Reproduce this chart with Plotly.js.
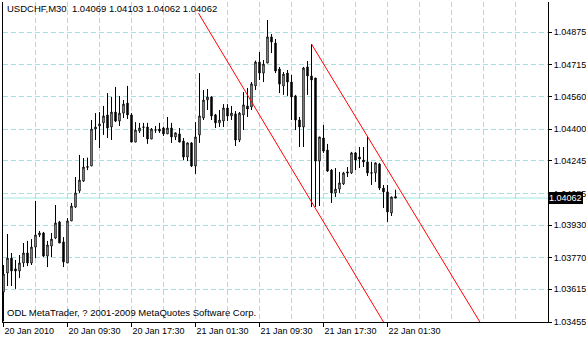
<!DOCTYPE html>
<html><head><meta charset="utf-8">
<script src="https://cdn.plot.ly/plotly-3.0.1.min.js"></script>
<style>html,body{margin:0;padding:0;background:#fff;overflow:hidden;} #chart{width:586px;height:340px;}</style>
</head><body><div id="chart"></div>
<script>
const symbol = "USDCHF,M30";
const open = [1.03602,1.03695,1.03768,1.03715,1.03705,1.03744,1.03793,1.03744,1.03822,1.03881,
1.03891,1.03778,1.03827,1.03866,1.03945,1.03847,1.03744,1.03950,1.04018,1.04097,
1.04145,1.04212,1.04219,1.04400,1.04415,1.04430,1.04469,1.04410,1.04483,1.04439,
1.04478,1.04527,1.04469,1.04336,1.04390,1.04408,1.04410,1.04351,1.04394,1.04400,
1.04405,1.04376,1.04405,1.04361,1.04376,1.04341,1.04263,1.04332,1.04219,1.04371,
1.04454,1.04542,1.04557,1.04469,1.04430,1.04439,1.04503,1.04464,1.04474,1.04346,
1.04469,1.04513,1.04508,1.04611,1.04728,1.04674,1.04723,1.04851,1.04821,1.04694,
1.04611,1.04674,1.04630,1.04562,1.04444,1.04410,1.04704,1.04660,1.04650,1.04243,
1.04356,1.04297,1.04199,1.04087,1.04106,1.04131,1.04190,1.04185,1.04283,1.04263,
1.04248,1.04239,1.04186,1.04185,1.04229,1.04111,1.04092,1.03989,1.04069];
const high = [1.03734,1.03886,1.03793,1.03759,1.03783,1.03842,1.03852,1.03861,1.04048,1.03901,
1.03896,1.03852,1.03891,1.04028,1.03950,1.03871,1.03964,1.04038,1.04165,1.04273,
1.04258,1.04260,1.04444,1.04478,1.04483,1.04513,1.04576,1.04557,1.04606,1.04562,
1.04542,1.04611,1.04478,1.04434,1.04430,1.04430,1.04430,1.04405,1.04415,1.04430,
1.04410,1.04459,1.04430,1.04383,1.04405,1.04356,1.04334,1.04336,1.04434,1.04674,
1.04591,1.04596,1.04560,1.04474,1.04493,1.04522,1.04522,1.04513,1.04488,1.04483,
1.04581,1.04601,1.04630,1.04735,1.04777,1.04738,1.04934,1.04865,1.04841,1.04704,
1.04679,1.04689,1.04665,1.04567,1.04459,1.04704,1.04733,1.04816,1.04650,1.04361,
1.04420,1.04327,1.04204,1.04209,1.04190,1.04190,1.04214,1.04288,1.04288,1.04312,
1.04312,1.04361,1.04239,1.04236,1.04234,1.04126,1.04126,1.04069,1.04103];
const low = [1.03458,1.03631,1.03631,1.03617,1.03670,1.03724,1.03729,1.03734,1.03768,1.03871,
1.03773,1.03724,1.03773,1.03861,1.03842,1.03724,1.03744,1.03950,1.04013,1.04087,
1.04141,1.04199,1.04219,1.04346,1.04307,1.04371,1.04356,1.04346,1.04434,1.04415,
1.04454,1.04449,1.04336,1.04336,1.04381,1.04361,1.04327,1.04351,1.04381,1.04381,
1.04366,1.04376,1.04332,1.04346,1.04336,1.04248,1.04243,1.04214,1.04180,1.04332,
1.04444,1.04493,1.04444,1.04405,1.04410,1.04410,1.04439,1.04444,1.04317,1.04336,
1.04395,1.04459,1.04493,1.04591,1.04640,1.04630,1.04723,1.04772,1.04674,1.04576,
1.04567,1.04562,1.04444,1.04395,1.04312,1.04312,1.04567,1.04018,1.04018,1.04023,
1.04283,1.04190,1.04038,1.04067,1.04087,1.04126,1.04165,1.04180,1.04199,1.04209,
1.04214,1.04170,1.04126,1.04141,1.04101,1.04013,1.03945,1.03974,1.04062];
const close = [1.03690,1.03768,1.03705,1.03705,1.03744,1.03793,1.03744,1.03822,1.03881,1.03891,
1.03778,1.03832,1.03861,1.03940,1.03842,1.03749,1.03950,1.04023,1.04087,1.04150,
1.04214,1.04216,1.04400,1.04410,1.04425,1.04464,1.04405,1.04483,1.04439,1.04478,
1.04522,1.04469,1.04336,1.04395,1.04405,1.04410,1.04351,1.04400,1.04396,1.04390,
1.04376,1.04405,1.04361,1.04381,1.04336,1.04263,1.04332,1.04219,1.04361,1.04464,
1.04542,1.04557,1.04464,1.04430,1.04444,1.04503,1.04464,1.04478,1.04346,1.04478,
1.04518,1.04498,1.04621,1.04728,1.04674,1.04718,1.04851,1.04826,1.04684,1.04620,
1.04669,1.04630,1.04557,1.04444,1.04410,1.04699,1.04660,1.04640,1.04243,1.04361,
1.04292,1.04194,1.04087,1.04106,1.04136,1.04185,1.04185,1.04283,1.04248,1.04253,
1.04239,1.04185,1.04184,1.04234,1.04111,1.04092,1.03994,1.04067,1.04062];

const timeTickBars = [0, 16, 32, 48, 64, 80, 96];
const timeTickLabels = ["20 Jan 2010", "20 Jan 09:30", "20 Jan 17:30", "21 Jan 01:30", "21 Jan 09:30", "21 Jan 17:30", "22 Jan 01:30"];
const priceTicks = [1.03455, 1.03615, 1.03770, 1.03930, 1.04085, 1.04245, 1.04400, 1.04560, 1.04715, 1.04875];

const channelUpperBars = [77, 119.1];
const channelUpperPrices = [1.04816, 1.03455];
const channelLowerBars = [48.75, 95];
const channelLowerPrices = [1.04967, 1.03455];

const copyrightText = "ODL MetaTrader, ? 2001-2009 MetaQuotes Software Corp.";

const n = open.length;
const barIdx = open.map((_, i) => i);
const last = n - 1;
const fmt = v => v.toFixed(5);
const headerText = symbol + "  " + [open[last], high[last], low[last], close[last]].map(fmt).join(" ");

const FONT = "'Liberation Sans', Arial, sans-serif";
const GRID = "#a9dede";

const traces = [
  {
    type: "candlestick",
    x: barIdx, open: open, high: high, low: low, close: close,
    increasing: {line: {color: "#000000", width: 1}, fillcolor: "#ffffff"},
    decreasing: {line: {color: "#000000", width: 1}, fillcolor: "#000000"},
    whiskerwidth: 0,
    hoverinfo: "skip",
    showlegend: false
  },
  {
    type: "scatter", mode: "lines",
    x: channelLowerBars, y: channelLowerPrices,
    line: {color: "#ff0000", width: 1},
    hoverinfo: "skip", showlegend: false
  },
  {
    type: "scatter", mode: "lines",
    x: channelUpperBars, y: channelUpperPrices,
    line: {color: "#ff0000", width: 1},
    hoverinfo: "skip", showlegend: false
  }
];

const layout = {
  width: 586, height: 340,
  margin: {l: 3, r: 38, t: 2, b: 18, pad: 0},
  paper_bgcolor: "#ffffff", plot_bgcolor: "#ffffff",
  font: {family: FONT, size: 9, color: "#000000"},
  showlegend: false,
  boxgap: 0.5,
  xaxis: {
    range: [-0.125, 136.125],
    tickmode: "array", tickvals: timeTickBars, ticktext: timeTickLabels,
    ticks: "outside", ticklen: 4, tickcolor: "#000000", tickwidth: 1,
    ticklabelposition: "outside right",
    showline: true, linecolor: "#000000", linewidth: 1, mirror: false,
    showgrid: true, gridcolor: GRID, griddash: "5px,3px", gridwidth: 1,
    minor: {tick0: 0, dtick: 8, showgrid: true, gridcolor: GRID, griddash: "5px,3px", ticks: ""},
    zeroline: false,
    rangeslider: {visible: false},
    tickfont: {family: FONT, size: 9, color: "#000000"},
    fixedrange: true
  },
  yaxis: {
    side: "right",
    range: [1.03455, 1.05022],
    tickmode: "array", tickvals: priceTicks, ticktext: priceTicks.map(fmt),
    ticks: "outside", ticklen: 3, tickcolor: "#000000", tickwidth: 1,
    showline: true, linecolor: "#000000", linewidth: 1, mirror: true,
    showgrid: true, gridcolor: GRID, griddash: "5px,3px", gridwidth: 1,
    zeroline: false,
    tickfont: {family: FONT, size: 9, color: "#000000"},
    fixedrange: true
  },
  shapes: [
    {type: "line", xref: "paper", x0: 0, x1: 1, yref: "y", y0: close[last], y1: close[last],
     line: {color: "#9fe8e8", width: 1}, layer: "below"}
  ],
  annotations: [
    {xref: "paper", yref: "paper", x: 0, y: 1, xanchor: "left", yanchor: "top",
     xshift: 2, yshift: 1, text: headerText, showarrow: false,
     font: {family: FONT, size: 9.5, color: "#000000"}},
    {xref: "paper", yref: "paper", x: 0, y: 0, xanchor: "left", yanchor: "bottom",
     xshift: 2, yshift: 2, text: copyrightText, showarrow: false,
     font: {family: FONT, size: 9.5, color: "#000000"}},
    {xref: "paper", yref: "y", x: 1, y: close[last], xanchor: "left", yanchor: "middle",
     xshift: 0, text: fmt(close[last]), showarrow: false,
     bgcolor: "#000000", bordercolor: "#000000", borderwidth: 0, borderpad: 1,
     font: {family: FONT, size: 9, color: "#ffffff"}}
  ]
};

Plotly.newPlot("chart", traces, layout, {displayModeBar: false, staticPlot: true});
</script>
</body></html>
